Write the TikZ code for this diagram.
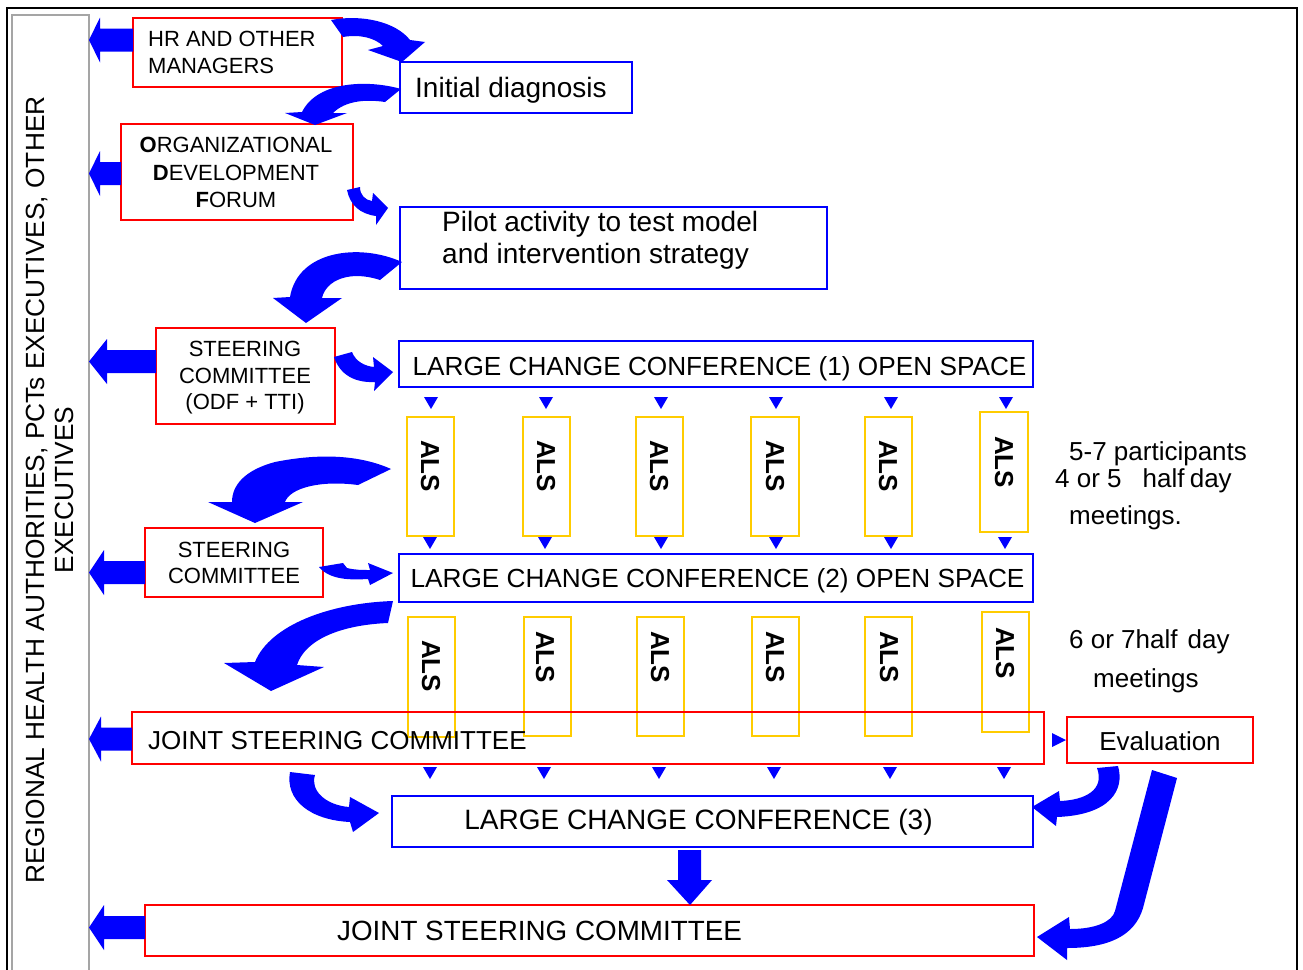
\documentclass[tikz,border=0pt]{standalone}
\usepackage{fontspec}
\setmainfont{Liberation Sans}
\usetikzlibrary{fit}
\definecolor{boxred}{RGB}{255,0,0}
\definecolor{boxblue}{RGB}{0,0,255}
\definecolor{alsyellow}{RGB}{255,204,0}
\definecolor{arrowblue}{RGB}{0,0,255}
\definecolor{colgray}{RGB}{165,165,165}
\newcommand\fsz[2]{\fontsize{#1}{#2}\selectfont}
\newcommand\TriDown[2]{\fill[arrowblue] ({#1-7},#2) -- ({#1+7},#2) -- (#1,{#2+12}) -- cycle;}
\newcommand\BlkL[3]{\fill[arrowblue] (#2,{#1-11.5}) -- (#3,{#1-11.5}) -- (#3,{#1-22.5}) -- (89,#1) -- (#3,{#1+22.5}) -- (#3,{#1+11.5}) -- (#2,{#1+11.5}) -- cycle;}
\tikzset{
  redbox/.style={draw=boxred, line width=1.3pt, inner sep=0pt},
  bluebox/.style={draw=boxblue, line width=1.3pt, inner sep=0pt},
  alsbox/.style={draw=alsyellow, line width=1.3pt, inner sep=0pt},
  alstext/.style={rotate=-90, font=\fsz{26}{30}\bfseries},
  lefttext/.style={anchor=west, inner sep=0pt},
  curvearrow/.style={fill=arrowblue},
}
\begin{document}
\begin{tikzpicture}[x=1pt,y=-1pt]
\useasboundingbox (0,0) rectangle (1303,969);
\fill[white] (0,0) rectangle (1303,969);
% frame and side column
\draw[black, line width=1.6pt] (7,980) -- (7,8) -- (1297,8) -- (1297,980);
\node[draw=colgray, line width=1.3pt, inner sep=0pt, fit={(12,15) (89,990)}] (column) {};
\node[rotate=90, align=center, font=\fsz{26.3}{29}] (columntext) at (50,490) {REGIONAL HEALTH AUTHORITIES, PCTs EXECUTIVES, OTHER\\EXECUTIVES};

% boxes and texts
\node[redbox, fit={(133,18) (342,87)}] (hr) {};
\node[lefttext, align=left, font=\fsz{22}{27}] (hrtext) at (148,52) {HR AND OTHER\\MANAGERS};
\node[bluebox, fit={(400,62) (632,113)}] (diag) {};
\node[lefttext, font=\fsz{28}{32}] (diagtext) at (415,90) {Initial diagnosis};
\node[redbox, fit={(121,124) (353,220)}] (odf) {};
\node[align=center, font=\fsz{22}{27.5}] (odftext) at (236,172.5) {\textbf{O}RGANIZATIONAL\\\textbf{D}EVELOPMENT\\\textbf{F}ORUM};
\node[bluebox, fit={(400,207) (827,289)}] (pilot) {};
\node[lefttext, align=left, font=\fsz{28}{32}] (pilottext) at (442,240) {Pilot activity to test model\\and intervention strategy};
\node[redbox, fit={(156,328) (335,424)}] (sc1) {};
\node[align=center, font=\fsz{22}{26.5}] (sc1text) at (245,378) {STEERING\\COMMITTEE\\(ODF + TTI)};
\node[bluebox, fit={(399,341) (1033,387)}] (lcc1) {};
\node[font=\fsz{26.2}{30}] (lcc1text) at (719.5,368.5) {LARGE CHANGE CONFERENCE (1) OPEN SPACE};
\node[redbox, fit={(145,528) (323,597)}] (sc2) {};
\node[align=center, font=\fsz{22}{26}] (sc2text) at (234,563) {STEERING\\COMMITTEE};
\node[bluebox, fit={(399,554) (1033,602)}] (lcc2) {};
\node[font=\fsz{26.2}{30}] (lcc2text) at (717.5,580.5) {LARGE CHANGE CONFERENCE (2) OPEN SPACE};

% ALS row 1
\node[alsbox, fit={(407,417) (454,536)}] (als11) {};
\node[alsbox, fit={(523,417) (570,536)}] (als12) {};
\node[alsbox, fit={(636,417) (683,536)}] (als13) {};
\node[alsbox, fit={(751,417) (799,536)}] (als14) {};
\node[alsbox, fit={(865,417) (912,536)}] (als15) {};
\node[alsbox, fit={(980,412) (1028,532)}] (als16) {};
\node[alstext] (als11t) at (430,466) {ALS};
\node[alstext] (als12t) at (546,466) {ALS};
\node[alstext] (als13t) at (659,466) {ALS};
\node[alstext] (als14t) at (775,466) {ALS};
\node[alstext] (als15t) at (888,466) {ALS};
\node[alstext] (als16t) at (1004,462) {ALS};

% ALS row 2
\node[alsbox, fit={(408,617) (455,737)}] (als21) {};
\node[alsbox, fit={(524,617) (571,736)}] (als22) {};
\node[alsbox, fit={(637,617) (684,736)}] (als23) {};
\node[alsbox, fit={(752,617) (799,736)}] (als24) {};
\node[alsbox, fit={(865,617) (912,736)}] (als25) {};
\node[alsbox, fit={(982,612) (1029,732)}] (als26) {};
\node[alstext] (als21t) at (431,666) {ALS};
\node[alstext] (als22t) at (545,657) {ALS};
\node[alstext] (als23t) at (660,657) {ALS};
\node[alstext] (als24t) at (775,657) {ALS};
\node[alstext] (als25t) at (889,657) {ALS};
\node[alstext] (als26t) at (1005,653) {ALS};

\node[redbox, fit={(132,712) (1044,764)}] (jsc1) {};
\node[lefttext, font=\fsz{26}{30}] (jsc1text) at (148,741) {JOINT STEERING COMMITTEE};
\node[redbox, fit={(1067,717) (1253,763)}] (eval) {};
\node[font=\fsz{26}{30}] (evaltext) at (1160,741) {Evaluation};
\node[bluebox, fit={(392,796) (1033,847)}] (lcc3) {};
\node[font=\fsz{28}{30}] (lcc3text) at (698.5,822.5) {LARGE CHANGE CONFERENCE (3)};
\node[redbox, fit={(145,905) (1034,956)}] (jsc2) {};
\node[lefttext, font=\fsz{27.8}{30}] (jsc2text) at (337,931) {JOINT STEERING COMMITTEE};

% right notes
\node[lefttext, font=\fsz{26}{30}] (note1) at (1069,454) {5-7 participants};
\node[lefttext, font=\fsz{26}{30}] (note2) at (1055,481) {4 or 5\hspace{21pt}half\hspace{-2pt} day};
\node[lefttext, font=\fsz{26}{30}] (note3) at (1069,518) {meetings.};
\node[lefttext, font=\fsz{26}{30}] (note4) at (1069,642) {6 or 7half\hspace{10pt}day};
\node[lefttext, font=\fsz{26}{30}] (note5) at (1093,681) {meetings};

% small triangles
\foreach \x in {431,546,661,776,891,1006} {\TriDown{\x}{397}}
\foreach \x in {430,545,661,776,891,1005} {\TriDown{\x}{537}}
\foreach \x in {430,544,659,774,890,1004} {\TriDown{\x}{767}}
\fill[arrowblue] (1052,733) -- (1052,747) -- (1066,740) -- cycle;

% block arrows to the left column
\BlkL{40}{133}{100}
\BlkL{173.5}{121}{100}
\BlkL{361.5}{156}{107}
\BlkL{572.5}{145}{104}
\BlkL{739}{132}{101}
\BlkL{927.5}{145}{104}

% curved arrows
% HR -> Initial diagnosis
\fill[curvearrow] (331,20) .. controls (362,14) and (396,22) .. (410,40) -- (425,42) -- (402,62) -- (368,50) -- (383,46) .. controls (375,38) and (360,34) .. (343,37) -- cycle;
% Initial diagnosis -> ODF
\fill[curvearrow] (401,89) .. controls (370,80) and (318,80) .. (302,112) -- (285,113) -- (315,125) -- (347,113) -- (333,113) .. controls (345,101) and (365,99) .. (385,102) -- cycle;
% ODF -> Pilot
\fill[curvearrow] (347,190) -- (360,187) .. controls (360,195) and (365,200) .. (372,201) -- (373,193) -- (388,208) -- (376,225) -- (376,216) .. controls (360,214) and (350,205) .. (347,190) -- cycle;
% Pilot -> SC1
\fill[curvearrow] (402,262) .. controls (360,243) and (298,250) .. (290,297) -- (273,298) -- (306,323) -- (342,298) -- (322,298) .. controls (326,280) and (350,270) .. (380,280) -- cycle;
% SC1 -> LCC1
\fill[curvearrow] (334,357) -- (352,352) .. controls (356,362) and (365,366) .. (374,367) -- (373,357) -- (393,372) -- (374,391) -- (375,382) .. controls (355,383) and (340,375) .. (334,357) -- cycle;
% ALS -> SC2
\fill[curvearrow] (391,469) .. controls (360,455) and (320,453) .. (275,462) .. controls (245,470) and (232,485) .. (232,502) -- (208,502) -- (255,523) -- (303,502) -- (285,502) .. controls (290,488) and (320,480) .. (358,485) -- cycle;
% SC2 -> LCC2
\fill[curvearrow] (319,567) -- (343,563) -- (347,568) .. controls (355,570) and (362,570) .. (370,570) -- (368,563) -- (393,573) -- (370,585) -- (368,579) .. controls (350,580) and (330,580) .. (319,567) -- cycle;
% LCC2 -> JSC1
\fill[curvearrow] (393,601) .. controls (330,603) and (270,625) .. (255,662) -- (224,663) -- (271,691) -- (324,667) -- (297,665) .. controls (305,640) and (340,625) .. (388,623) -- cycle;
% JSC1 -> LCC3
\fill[curvearrow] (290,772) .. controls (285,800) and (310,820) .. (350,822) -- (353,832) -- (379,813) -- (350,797) -- (349,807) .. controls (325,805) and (310,790) .. (315,775) -- cycle;
% Evaluation -> LCC3
\fill[curvearrow] (1097,768) -- (1118,766) .. controls (1125,790) and (1110,815) .. (1057,817) -- (1056,826) -- (1032,807) -- (1059,791) -- (1060,801) .. controls (1085,800) and (1105,790) .. (1097,768) -- cycle;
% Evaluation -> JSC2
\fill[curvearrow] (1152,770) -- (1177,778) -- (1143,908) .. controls (1135,935) and (1110,948) .. (1067,948) -- (1067,960) -- (1037,937) -- (1069,917) -- (1070,929) .. controls (1095,929) and (1112,922) .. (1115,911) -- cycle;
% LCC3 -> JSC2
\fill[arrowblue] (678,850) -- (701,850) -- (701,880) -- (712,880) -- (690,905) -- (667,880) -- (678,880) -- cycle;
\end{tikzpicture}
\end{document}
